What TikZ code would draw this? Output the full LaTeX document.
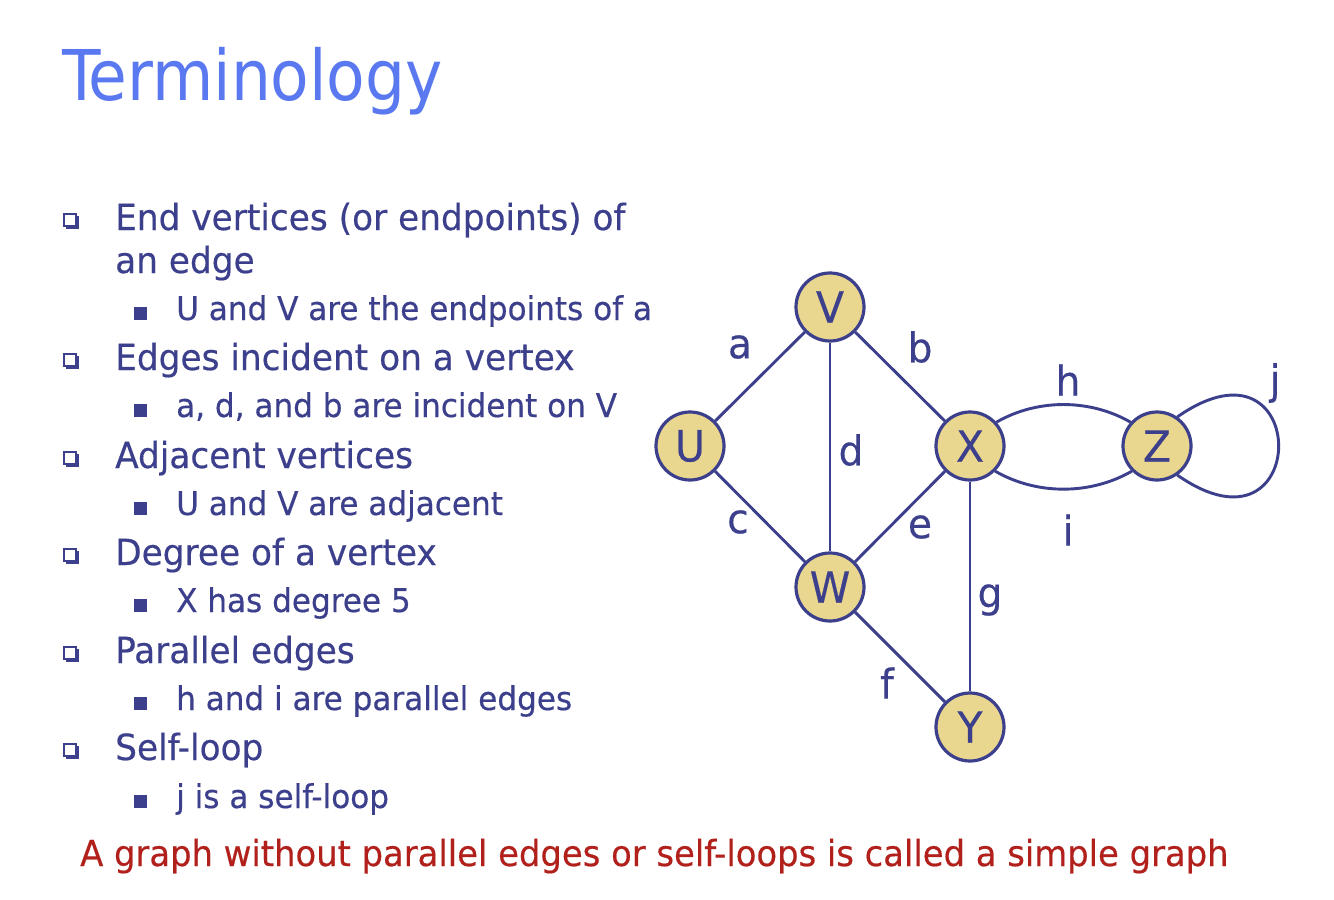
\documentclass[tikz,border=0pt]{standalone}
\usepackage{fontspec}
\setmainfont{DejaVu Sans Condensed}
\newfontfamily\bodyfont{DejaVu Sans Condensed}[FakeStretch=1.06, FakeBold=0.4]
\newfontfamily\footfont{DejaVu Sans Condensed}[FakeStretch=1.05, FakeBold=0.4]
\definecolor{navy}{RGB}{60,63,140}
\definecolor{titleblue}{RGB}{90,120,240}
\definecolor{khaki}{RGB}{234,215,143}
\definecolor{darkred}{RGB}{178,32,28}
\tikzset{
  mainitem/.style={anchor=base west, inner sep=0pt, text=navy, font=\bodyfont\fontsize{36}{42}\selectfont},
  subitem/.style={anchor=base west, inner sep=0pt, text=navy, font=\bodyfont\fontsize{32.6}{38}\selectfont},
  hbullet/.style={draw=navy, line width=1.5pt, fill=white, minimum size=12pt, inner sep=0pt},
  hshadow/.style={fill=navy, minimum size=13pt, inner sep=0pt},
  fbullet/.style={fill=navy, minimum size=13pt, inner sep=0pt},
  vertex/.style={circle, draw=navy, line width=3.2pt, fill=khaki, minimum size=68pt, inner sep=0pt, text=navy, font=\bodyfont\fontsize{43}{44}\selectfont},
  elabel/.style={inner sep=0pt, text=navy, font=\bodyfont\fontsize{41}{42}\selectfont},
  edge/.style={draw=navy, line width=2.9pt}
}
\begin{document}
\begin{tikzpicture}[x=1pt,y=-1pt]
\useasboundingbox (0,0) rectangle (1334,900);
\fill[white] (0,0) rectangle (1334,900);
\node[anchor=base west, inner sep=0pt, text=titleblue, font=\fontsize{70}{84}\selectfont] (title) at (62,100) {Terminology};
% hollow bullets (with shadow)
\foreach \y [count=\i] in {220,360,458,555,653,750} {
  \node[hshadow] (bs\i) at (72.5,\y+2.5) {};
  \node[hbullet] (bl\i) at (70,\y) {};
}
% main items
\node[mainitem] (m1) at (115,230) {End vertices (or endpoints) of};
\node[mainitem] (m1b) at (115,273) {an edge};
\node[fbullet] (sb1) at (140,313) {};
\node[subitem] (s1) at (176,320) {U and V are the endpoints of a};
\node[mainitem] (m2) at (115,370) {Edges incident on a vertex};
\node[fbullet] (sb2) at (140,410) {};
\node[subitem] (s2) at (176,417) {a, d, and b are incident on V};
\node[mainitem] (m3) at (115,468) {Adjacent vertices};
\node[fbullet] (sb3) at (140,508) {};
\node[subitem] (s3) at (176,515) {U and V are adjacent};
\node[mainitem] (m4) at (115,565) {Degree of a vertex};
\node[fbullet] (sb4) at (140,605) {};
\node[subitem] (s4) at (176,612) {X has degree 5};
\node[mainitem] (m5) at (115,663) {Parallel edges};
\node[fbullet] (sb5) at (140,703) {};
\node[subitem] (s5) at (176,710) {h and i are parallel edges};
\node[mainitem] (m6) at (115,760) {Self-loop};
\node[fbullet] (sb6) at (140,801) {};
\node[subitem] (s6) at (176,808) {j is a self-loop};
% bottom
\node[anchor=base west, inner sep=0pt, text=darkred, font=\footfont\fontsize{35.8}{42}\selectfont] (bottom) at (80,866) {A graph without parallel edges or self-loops is called a simple graph};
% graph
\node[vertex] (V) at (830,307) {V};
\node[vertex] (U) at (690,446) {U};
\node[vertex] (X) at (970,446) {X};
\node[vertex] (Z) at (1157,446) {Z};
\node[vertex] (W) at (830,587) {W};
\node[vertex] (Y) at (970,727) {Y};
\draw[edge] (U) -- (V);
\draw[edge] (V) -- (X);
\draw[edge] (V) -- (W);
\draw[edge] (U) -- (W);
\draw[edge] (X) -- (W);
\draw[edge] (X) -- (Y);
\draw[edge] (W) -- (Y);
\draw[edge] (X.42) to[out=30,in=150,looseness=0.9] (Z.138);
\draw[edge] (X.-45) to[out=-30,in=-150,looseness=0.9] (Z.-135);
\draw[edge] (Z.55) .. controls +(135,-94) and +(135,94) .. (Z.-55);
\node[elabel] (la) at (740,347) {a};
\node[elabel] (lb) at (920,347) {b};
\node[elabel] (lc) at (738,522) {c};
\node[elabel] (ld) at (851,450) {d};
\node[elabel] (le) at (920,527) {e};
\node[elabel] (lf) at (887,683) {f};
\node[elabel] (lg) at (990,600) {g};
\node[elabel] (lh) at (1068,380) {h};
\node[elabel] (li) at (1068,530) {i};
\node[elabel] (lj) at (1275,383) {j};
\end{tikzpicture}
\end{document}
